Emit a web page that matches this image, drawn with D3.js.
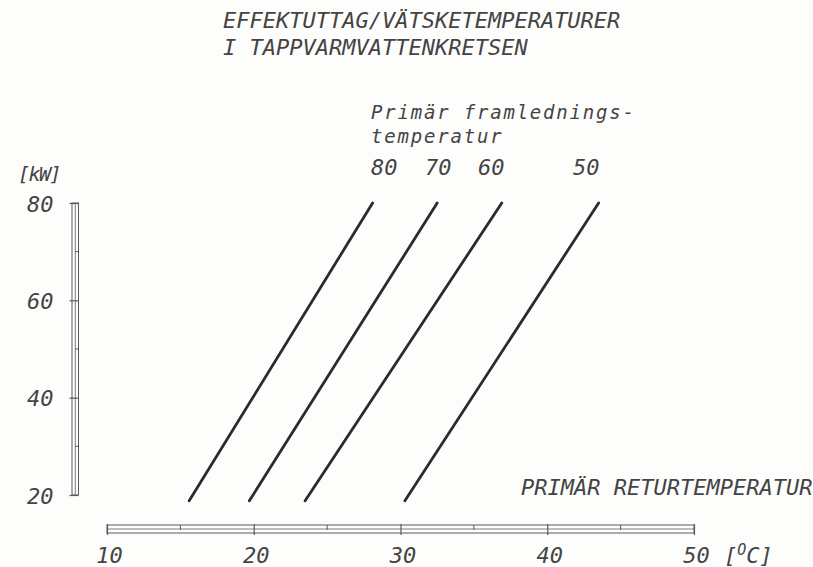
<!DOCTYPE html>
<html>
<head>
<meta charset="utf-8">
<script src="https://cdn.jsdelivr.net/npm/d3@7"></script>
<style>
  body { margin: 0; background: #fdfdfc; }
  svg text { font-family: "DejaVu Sans Mono", monospace; font-style: italic; fill: #444; }
</style>
</head>
<body>
<svg id="chart" width="813" height="567"></svg>
<script>
// flow temperature curves (return temp at low / high power)
const flowTemps = [80, 70, 60, 50];
const returnAtLow = [15.6, 19.7, 23.5, 30.3];
const returnAtHigh = [28.1, 32.5, 36.9, 43.5];
const powerLow = 18.8;
const powerHigh = 80;

const xMajor = [10, 20, 30, 40, 50];
const xMinor = [15, 25, 35, 45];
const yMajor = [20, 40, 60, 80];
const yMinor = [30, 50, 70];

const titleLines = ["EFFEKTUTTAG/VÄTSKETEMPERATURER", "I TAPPVARMVATTENKRETSEN"];
const legendLines = ["Primär framlednings-", "temperatur"];

const svg = d3.select("#chart");
const fs = 22;

const x = d3.scaleLinear().domain([10, 50]).range([107, 694]);
const y = d3.scaleLinear().domain([20, 80]).range([495, 203]);

// title
svg.append("g").selectAll("text")
  .data(titleLines)
  .join("text")
    .attr("x", 223)
    .attr("y", (d, i) => 28 + i * 27)
    .attr("font-size", fs)
    .text(d => d);

// legend heading (lower case is a bit smaller, same pitch)
svg.append("g").selectAll("text")
  .data(legendLines)
  .join("text")
    .attr("x", 371)
    .attr("y", (d, i) => 119 + i * 24)
    .attr("font-size", 19)
    .attr("letter-spacing", 1.8)
    .text(d => d);

// flow temp labels above curves
const labelX = [371, 425, 478, 573];
svg.append("g").selectAll("text")
  .data(flowTemps)
  .join("text")
    .attr("x", (d, i) => labelX[i])
    .attr("y", 175)
    .attr("font-size", fs)
    .text(d => d);

// y axis unit
svg.append("text")
  .attr("x", 18).attr("y", 181)
  .attr("font-size", 20)
  .attr("letter-spacing", -1.5)
  .text("[kW]");

// x axis title
svg.append("text")
  .attr("x", 521).attr("y", 495)
  .attr("font-size", fs)
  .text("PRIMÄR RETURTEMPERATUR");

// ---- y axis: double-line bar
const axisCol = "#5a5a5a";
const yg = svg.append("g");
yg.append("rect")
  .attr("x", 72).attr("y", y(80))
  .attr("width", 6.5).attr("height", y(20) - y(80))
  .attr("fill", "none").attr("stroke", axisCol).attr("stroke-width", 1);
yg.append("line")
  .attr("x1", 75.3).attr("x2", 75.3)
  .attr("y1", y(80)).attr("y2", y(20))
  .attr("stroke", axisCol).attr("stroke-width", 0.8);

const yAxis = d3.axisLeft(y).tickValues(yMajor).tickSize(9).tickPadding(0);
const yAx = svg.append("g").attr("transform", "translate(78.5,0)").call(yAxis);
yAx.select(".domain").remove();
yAx.selectAll(".tick line").attr("stroke", axisCol).attr("stroke-width", 1.2);
yAx.selectAll(".tick text")
  .attr("dy", null)
  .attr("text-anchor", "end")
  .attr("font-size", fs)
  .attr("font-family", null)
  .attr("fill", null)
  .attr("y", 8)
  .attr("x", -25);

yg.selectAll(".minor")
  .data(yMinor)
  .join("line")
    .attr("x1", 75).attr("x2", 78.5)
    .attr("y1", d => y(d)).attr("y2", d => y(d))
    .attr("stroke", axisCol).attr("stroke-width", 1);

// ---- x axis: double-line bar
const xg = svg.append("g");
xg.append("rect")
  .attr("x", x(10)).attr("y", 525)
  .attr("width", x(50) - x(10)).attr("height", 8)
  .attr("fill", "none").attr("stroke", axisCol).attr("stroke-width", 1);
xg.append("line")
  .attr("x1", x(10)).attr("x2", x(50))
  .attr("y1", 529).attr("y2", 529)
  .attr("stroke", axisCol).attr("stroke-width", 0.8);

const xAxis = d3.axisBottom(x).tickValues(xMajor).tickSize(11).tickPadding(0);
const xAx = svg.append("g").attr("transform", "translate(0,524)").call(xAxis);
xAx.select(".domain").remove();
xAx.selectAll(".tick line").attr("stroke", axisCol).attr("stroke-width", 1.2);
xAx.selectAll(".tick text")
  .attr("dy", null)
  .attr("y", 39)
  .attr("x", 2)
  .attr("font-size", fs)
  .attr("font-family", null)
  .attr("fill", null);

xg.selectAll(".minor")
  .data(xMinor)
  .join("line")
    .attr("x1", d => x(d)).attr("x2", d => x(d))
    .attr("y1", 525).attr("y2", 530)
    .attr("stroke", axisCol).attr("stroke-width", 1);

// unit after 50
const unit = svg.append("text")
  .attr("x", 724).attr("y", 563)
  .attr("font-size", fs);
unit.append("tspan").text("[");
unit.append("tspan").attr("font-size", 15).attr("dy", -8).text("O");
unit.append("tspan").attr("dy", 8).text("C]");

// ---- curves
const lineGen = d3.line().x(d => x(d[0])).y(d => y(d[1]));
svg.append("g").selectAll("path")
  .data(flowTemps.map((t, i) => [[returnAtLow[i], powerLow], [returnAtHigh[i], powerHigh]]))
  .join("path")
    .attr("d", lineGen)
    .attr("fill", "none")
    .attr("stroke", "#2b2b2b")
    .attr("stroke-width", 2.8)
    .attr("stroke-linecap", "round");
</script>
</body>
</html>
